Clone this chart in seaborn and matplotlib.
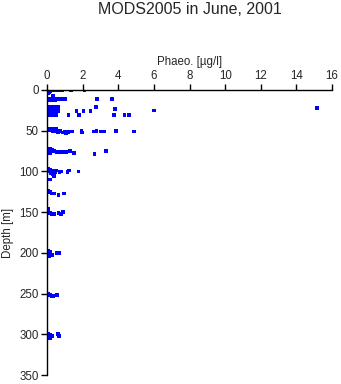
import matplotlib
matplotlib.use("Agg")
import matplotlib.pyplot as plt
import seaborn as sns
import pandas as pd

depth = [0, 0, 0, 0, 0, 0, 0, 0, 0, 0, 2, 2, 3, 4, 7,
         11, 11, 11, 11, 11, 11, 11, 11, 11, 13, 13, 13,
         21, 21, 21, 21, 21, 21, 22, 23, 25,
         26, 26, 26, 26, 26, 26, 26, 28,
         31, 31, 31, 31, 31, 31, 31, 31, 31,
         48, 48, 48, 48, 49, 50, 50, 50, 51, 51, 51, 50, 52, 51, 50, 51, 51, 50, 51, 52, 52, 53, 52,
         72, 72, 73, 74, 75, 75, 75, 76, 76, 76, 76, 75, 77, 75, 79, 77,
         97, 98, 99, 99, 100, 100, 101, 101, 100, 101, 99, 100, 102, 103, 106, 110,
         124, 126, 127, 127, 129, 127, 125,
         146, 150, 151, 152, 152, 151, 152, 150, 153,
         197, 199, 201, 202, 203, 200, 200, 204,
         250, 252, 253, 253, 252,
         299, 301, 303, 302, 300, 302, 305]
phaeo = [0.05, 0.15, 0.25, 0.35, 0.45, 0.55, 0.7, 0.85, 1.35, 2.1, 0.05, 0.2, 0.1, 0.05, 0.35,
         0.05, 0.2, 0.35, 0.5, 0.65, 0.8, 1.0, 2.8, 3.65, 0.1, 0.3, 0.45,
         0.05, 0.2, 0.35, 0.5, 0.65, 2.75, 15.15, 3.8, 6.0,
         0.05, 0.25, 0.45, 0.6, 1.65, 2.05, 2.45, 0.1,
         0.05, 0.2, 0.35, 0.5, 1.2, 1.8, 3.75, 4.35, 4.62,
         0.05, 0.2, 0.35, 0.5, 0.1, 0.3, 0.5, 0.73, 1.0, 1.2, 1.4, 1.93, 1.95, 2.63, 2.78, 3.05, 3.2, 3.87, 4.9, 0.6, 0.9, 1.05, 1.2,
         0.05, 0.2, 0.1, 0.3, 0.05, 0.2, 0.4, 0.55, 0.75, 0.9, 1.1, 1.3, 1.53, 3.3, 2.66, 0.15,
         0.05, 0.2, 0.35, 0.5, 0.1, 0.3, 0.45, 0.7, 0.82, 1.15, 1.23, 1.76, 0.2, 0.35, 0.4, 0.15,
         0.05, 0.1, 0.25, 0.4, 0.64, 0.97, 0.15,
         0.05, 0.05, 0.15, 0.25, 0.4, 0.65, 0.8, 0.9, 0.75,
         0.05, 0.15, 0.2, 0.1, 0.3, 0.55, 0.7, 0.1,
         0.05, 0.15, 0.25, 0.35, 0.55,
         0.05, 0.15, 0.2, 0.3, 0.6, 0.67, 0.15]

x_ticks = [0, 2, 4, 6, 8, 10, 12, 14, 16]
y_ticks = [0, 50, 100, 150, 200, 250, 300, 350]

df = pd.DataFrame({"Depth": depth, "Phaeo": phaeo})

sns.set_style("ticks")
plt.rcParams['font.family'] = ['Liberation Sans', 'DejaVu Sans']

fig = plt.figure(figsize=(3.41, 3.84), dpi=100)
ax = fig.add_axes([47/341, 1-375/384, (332-47)/341, (375-90)/384])

sns.scatterplot(data=df, x="Phaeo", y="Depth", ax=ax, marker="s", s=7,
                color="#0000ff", linewidth=0, edgecolor="none")

ax.set_xlim(0, 16)
ax.set_ylim(350, 0)
ax.set_xticks(x_ticks)
ax.set_yticks(y_ticks)
ax.xaxis.tick_top()
ax.xaxis.set_label_position("top")
ax.set_xlabel("Phaeo. [\u00b5g/l]", fontsize=8.3, labelpad=3)
ax.set_ylabel("Depth [m]", fontsize=8.3, labelpad=4)
ax.tick_params(axis="both", labelsize=8.3, length=4, width=1, color="black", pad=2)
for s in ["right", "bottom"]:
    ax.spines[s].set_visible(False)
for s in ["top", "left"]:
    ax.spines[s].set_color("black")
    ax.spines[s].set_linewidth(1)

fig.text((47+332)/2/341, 1-9/384, "MODS2005 in June, 2001", ha="center", va="center", fontsize=11.5)

fig.savefig("out.png", dpi=100)
